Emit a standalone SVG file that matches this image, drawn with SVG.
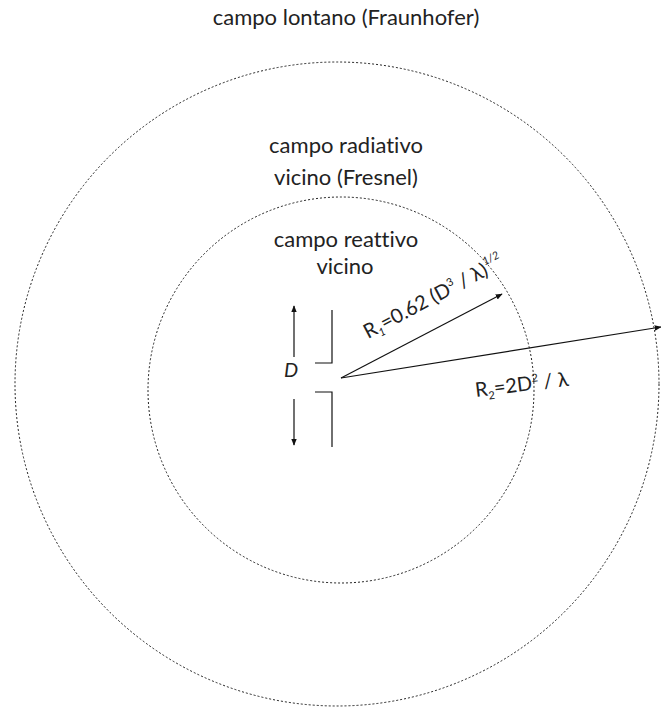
<svg xmlns="http://www.w3.org/2000/svg" width="661" height="709" viewBox="0 0 661 709">
<style>
.zone{fill:none;stroke:#222;stroke-width:1;stroke-dasharray:2 2}
.ln{fill:none;stroke:#111;stroke-width:1.2}
.t{font-family:Lato,"Open Sans","Liberation Sans",sans-serif;fill:#222;font-size:22px;font-variant-ligatures:none}
.m{font-family:Lato,"Open Sans","Liberation Sans",sans-serif;fill:#222;font-size:20px;font-variant-ligatures:none}
.i{font-style:italic}
.s{font-size:11px}
</style>
<defs>
<marker id="ah" viewBox="0 0 10 10" refX="9" refY="5" markerWidth="7" markerHeight="7" orient="auto" markerUnits="userSpaceOnUse">
<path d="M0,1 L10,5 L0,9 z" fill="#111"/>
</marker>
</defs>
<rect width="661" height="709" fill="#fff"/>
<g id="far-field">
<circle class="zone" cx="337" cy="384" r="322"/>
<text class="t" x="346" y="25" text-anchor="middle">campo lontano (Fraunhofer)</text>
</g>
<g id="radiative-near-field">
<text class="t" x="346" y="153" text-anchor="middle">campo radiativo</text>
<text class="t" x="346" y="185" text-anchor="middle">vicino (Fresnel)</text>
</g>
<g id="reactive-near-field">
<circle class="zone" cx="341" cy="390" r="193"/>
<text class="t" x="346" y="247" text-anchor="middle">campo reattivo</text>
<text class="t" x="345" y="274" text-anchor="middle">vicino</text>
</g>
<g id="aperture">
<path class="ln" d="M332,310 V363 H315 M315,392 H332 V447"/>
<text class="m i" x="291" y="377" text-anchor="middle">D</text>
</g>
<g id="connectors">
<line class="ln" x1="294" y1="357" x2="294" y2="306" marker-end="url(#ah)"/>
<line class="ln" x1="294" y1="399" x2="294" y2="445" marker-end="url(#ah)"/>
<line class="ln" x1="341" y1="378" x2="502" y2="294" marker-end="url(#ah)"/>
<line class="ln" x1="341" y1="378" x2="661" y2="327" marker-end="url(#ah)"/>
</g>
<g id="labels">
<text class="m" transform="translate(368,339) rotate(-28)">R<tspan class="s i" dy="4">1</tspan><tspan dy="-4">=0.62 (D</tspan><tspan class="s" dy="-8">3</tspan><tspan dy="8"> / λ)</tspan><tspan class="s i" dy="-10">1/2</tspan></text>
<text class="m" transform="translate(476,397) rotate(-7)">R<tspan class="s" dy="4">2</tspan><tspan dy="-4">=2D</tspan><tspan class="s" dy="-8">2</tspan><tspan dy="8"> / λ</tspan></text>
</g>
</svg>
